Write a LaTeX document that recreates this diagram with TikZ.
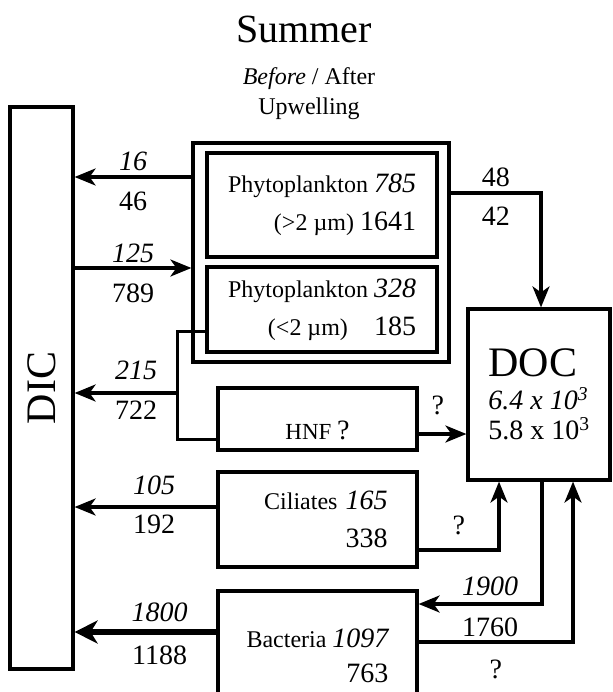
\documentclass[tikz,border=0pt]{standalone}
\usepackage{fontspec}
\setmainfont{Liberation Serif}
\usetikzlibrary{positioning,arrows.meta,calc}

\newcommand{\namefont}{\fontsize{24}{38}\selectfont}
\newcommand{\numfont}{\fontsize{28}{30}\selectfont}
\newcommand{\bigfont}{\fontsize{42}{44}\selectfont}

\begin{document}
\begin{tikzpicture}[
  x=1pt, y=-1pt,
  box/.style={draw, line width=3.2pt, inner sep=0pt, align=right, font=\namefont},
  arr/.style={-{Stealth[length=21pt, width=17pt, inset=6pt]}, line width=3.2pt},
  link/.style={line width=3pt},
  bef/.style={above=4pt, inner sep=1pt, font=\numfont\itshape},
  aft/.style={below=12pt, inner sep=1pt, font=\numfont},
  qm/.style={inner sep=1pt, font=\numfont}
]
\useasboundingbox (0,0) rectangle (612,692);
\clip (0,0) rectangle (612,692);

% title
\node[font=\fontsize{40}{44}\selectfont, anchor=base] (season) at (304,43) {Summer};
\node[font=\fontsize{24}{30}\selectfont, align=center, inner sep=0pt] (period) at (309,94) {\textit{Before} / After\\Upwelling};

% compartments
\node[box, minimum width=63, minimum height=562, font=\bigfont] (dic) at (41.5,388) {\rotatebox{90}{DIC}};
\node[box, minimum width=256, minimum height=219] (phyto) at (321,252.5) {};
\node[box, minimum width=230, minimum height=104] (pbig) at (322,205) {Phytoplankton {\numfont\itshape 785}\\(>2 µm) {\numfont 1641}};
\node[box, minimum width=230, minimum height=85] (psmall) at (322,309.5) {Phytoplankton {\numfont\itshape 328}\\(<2 µm)\hspace{20pt} {\numfont 185}};
\node[box, minimum width=199, minimum height=62, font=\fontsize{23}{24}\selectfont, text height=40pt, text depth=0pt] (hnf) at (317.5,419) {HNF {\numfont ?}};
\node[box, minimum width=199, minimum height=95, text width=140pt] (cil) at (317.5,519.5) {Ciliates {\numfont\itshape 165}\\{\numfont 338}};
\node[box, minimum width=199, minimum height=129] (bac) at (317.5,655.5) {Bacteria {\numfont\itshape 1097}\\[-3pt]{\numfont 763}};
\node[box, align=left, minimum width=142, minimum height=171, font=\numfont] (doc) at (539,394.5) {{\bigfont DOC}\\[3pt]\textit{6.4 x 10\textsuperscript{3}}\\5.8 x 10\textsuperscript{3}};

% rows of the flows
\coordinate (r16) at (0,177);
\coordinate (r48) at (0,193);
\coordinate (r125) at (0,268);
\coordinate (rsm) at (0,331);
\coordinate (jn) at (177,393);
\coordinate (rq) at (0,434);
\coordinate (rhn) at (0,439);
\coordinate (r105) at (0,507);
\coordinate (rcd) at (0,550);
\coordinate (r1900) at (0,604);
\coordinate (r1800) at (0,632);
\coordinate (rbd) at (0,642);

% flows
\draw[arr] (phyto.west |- r16) -- node[bef, above=3.5pt]{16} node[aft, below=12.5pt]{46} (dic.east |- r16);
\draw[arr] (dic.east |- r125) -- node[bef, above=2.5pt]{125} node[aft, below=13.5pt]{789} (phyto.west |- r125);
\draw[arr] (phyto.east |- r48) -| node[bef, pos=.25, font=\numfont]{48} node[aft, pos=.25, below=11.5pt]{42} ([xshift=2pt]doc.north);
\draw[link] (psmall.west |- rsm) -| (jn) |- (hnf.west |- rhn);
\draw[arr] (jn) -- node[bef, pos=.4, above=10.5pt]{215} node[aft, pos=.4, below=5.5pt]{722} (jn -| dic.east);
\draw[arr] (hnf.east |- rq) -- node[qm, pos=.4, above=17pt]{?} (doc.west |- rq);
\draw[arr] (cil.west |- r105) -- node[bef, pos=.44, above=10pt]{105} node[aft, pos=.44, below=5.5pt]{192} (dic.east |- r105);
\draw[arr] (cil.east |- rcd) -| node[qm, pos=.25, above=13pt]{?} ([xshift=-40pt]doc.south);
\draw[arr] ([xshift=3pt]doc.south) |- node[bef, pos=.71, above=6pt]{1900} node[aft, pos=.71, below=11.5pt]{1760} (bac.east |- r1900);
\draw[arr] (bac.east |- rbd) -| node[qm, pos=.25, below=15pt]{?} ([xshift=34pt]doc.south);
\draw[arr, line width=5.5pt, -{Stealth[length=23pt, width=23pt, inset=7pt]}] (bac.west |- r1800) -- node[bef, pos=.4, above=6.5pt]{1800} node[aft, pos=.4, below=10.5pt]{1188} (dic.east |- r1800);
\end{tikzpicture}
\end{document}
